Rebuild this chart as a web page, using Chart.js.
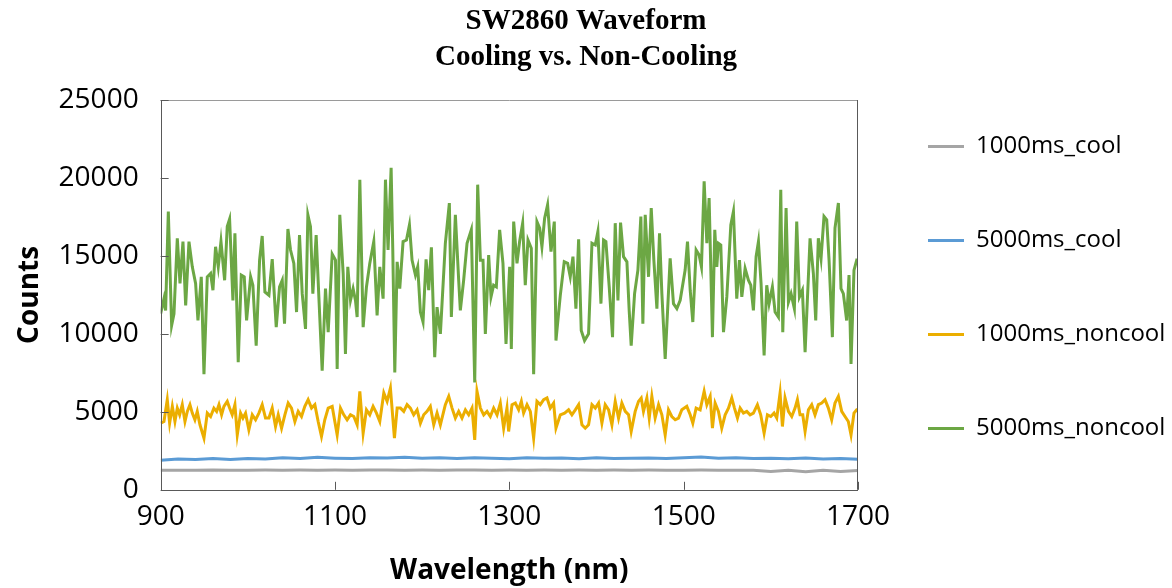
<!DOCTYPE html>
<html>
<head>
<meta charset="utf-8">
<title>SW2860 Waveform</title>
<script src="https://cdn.jsdelivr.net/npm/chart.js@4.4.1/dist/chart.umd.min.js"></script>
<style>
  html, body { margin: 0; padding: 0; background: #fff; }
</style>
</head>
<body>
<canvas id="chart" width="1172" height="588"></canvas>
<script>
// series names, same order as the legend
var seriesNames = ["1000ms_cool", "5000ms_cool", "1000ms_noncool", "5000ms_noncool"];
var seriesColors = ["#A5A5A5", "#5B9BD5", "#EBAE00", "#6CA744"];

var xTicks = [900, 1100, 1300, 1500, 1700];
var yTicks = [0, 5000, 10000, 15000, 20000, 25000];

// cooled series, read every 20 nm
var coolNm = [900, 920, 940, 960, 980, 1000, 1020, 1040, 1060, 1080,
	1100, 1120, 1140, 1160, 1180, 1200, 1220, 1240, 1260, 1280,
	1300, 1320, 1340, 1360, 1380, 1400, 1420, 1440, 1460, 1480,
	1500, 1520, 1540, 1560, 1580, 1600, 1620, 1640, 1660, 1680, 1700];
var cool1000 = [1250, 1260, 1250, 1270, 1260, 1260, 1270, 1260, 1270, 1260,
	1270, 1260, 1270, 1270, 1260, 1270, 1260, 1270, 1270, 1260,
	1270, 1260, 1270, 1260, 1270, 1260, 1270, 1260, 1270, 1260,
	1260, 1270, 1260, 1260, 1260, 1180, 1260, 1160, 1250, 1170, 1240];
var cool5000 = [1900, 1980, 1950, 2000, 1940, 2010, 1980, 2050, 2000, 2080,
	2030, 2000, 2060, 2040, 2080, 2020, 2060, 2000, 2050, 2030,
	1990, 2060, 2020, 2040, 1990, 2050, 2000, 2030, 2040, 2010,
	2050, 2110, 2030, 2060, 2000, 2030, 1990, 2040, 1970, 2010, 1960];

// 1000ms non-cooled
var noncool1000Nm = [900, 903.8, 907.6, 910.3, 913.4, 916.4, 919.1, 921.8, 924.8, 927.9,
	930.6, 933.6, 936.3, 939.3, 942.0, 945.1, 949.7, 953.5, 957.3, 961.1,
	964.2, 966.9, 969.9, 972.6, 976.4, 979.1, 982.1, 985.2, 987.9, 991.7,
	994.4, 997.4, 1001.2, 1005.1, 1008.9, 1012.7, 1016.5, 1020.3, 1024.2, 1028.0,
	1031.8, 1034.9, 1038.7, 1042.5, 1046.3, 1050.1, 1054.0, 1057.8, 1061.6, 1065.4,
	1069.2, 1073.1, 1076.9, 1080.7, 1084.5, 1088.3, 1092.2, 1096.8,
	1102.5, 1106.3, 1110.1, 1113.9, 1117.8, 1121.6, 1125.4, 1128.5, 1132.3, 1136.1,
	1139.9, 1143.7, 1147.6, 1151.4, 1156.0, 1159.8, 1163.6, 1168.2, 1171.3, 1175.1,
	1178.9, 1182.7, 1186.5, 1190.3, 1194.2, 1198.0, 1201.8, 1205.6, 1209.4, 1213.3,
	1217.1, 1220.9, 1226.6, 1230.5, 1234.3, 1238.1, 1241.9, 1245.7, 1249.6, 1253.4,
	1257.2, 1260.3, 1262.9, 1266.8, 1270.6, 1274.4, 1278.2, 1282.0, 1285.9, 1289.7,
	1293.5, 1297.3,
	1299.2, 1303.1, 1306.9, 1310.7, 1313.8, 1316.4, 1320.3, 1324.1, 1327.9, 1331.7,
	1335.5, 1339.4, 1343.2, 1347.0, 1350.8, 1353.5, 1358.5, 1363.4, 1368.0, 1371.8,
	1375.7, 1379.5, 1383.3, 1387.1, 1390.9, 1394.8, 1398.6, 1402.4, 1406.2, 1410.0,
	1413.9, 1417.7, 1421.5, 1425.3, 1429.1, 1433.0, 1436.8, 1439.8, 1444.4, 1448.2,
	1451.3, 1453.9, 1457.8, 1460.5, 1463.5, 1467.3, 1471.2, 1475.0, 1478.8, 1482.6,
	1486.4, 1490.3, 1494.1, 1497.9,
	1503.6, 1507.5, 1510.5, 1514.3, 1518.9, 1523.5, 1526.6, 1530.4, 1533.0, 1536.1,
	1539.9, 1543.7, 1547.6, 1551.4, 1555.2, 1558.3, 1561.7, 1564.8, 1568.6, 1572.4,
	1576.2, 1580.0, 1584.6, 1588.4, 1592.3, 1596.1, 1599.9, 1603.7, 1606.8, 1610.6,
	1613.3, 1616.3, 1620.2, 1624.0, 1627.8, 1630.5, 1633.5, 1636.6, 1639.3, 1643.1,
	1646.9, 1650.7, 1654.5, 1658.4, 1662.2, 1666.0, 1669.8, 1673.6, 1677.5, 1681.3,
	1685.1, 1688.9, 1692.0, 1695.4, 1698.5, 1700];
var noncool1000 = [4270, 4380, 5780, 4270, 5350, 4380, 5240, 4810, 5460, 4380,
	5030, 5460, 4920, 4490, 5030, 4170, 3310, 4920, 4700, 5240,
	5030, 5460, 4810, 5350, 5670, 5240, 4810, 5460, 3520, 4920,
	4600, 4920, 3850, 4810, 4490, 4920, 5460, 4600, 4600, 5240,
	4060, 4810, 3950, 4810, 5560, 5240, 4380, 5030, 4700, 5350,
	5780, 5240, 5460, 4380, 3420, 4490, 5240, 5350,
	3520, 5240, 4810, 4490, 4810, 4700, 4170, 6320, 3630, 5130,
	4810, 5350, 4920, 4380, 6210, 5670, 6530, 3310, 5240, 5240,
	5030, 5460, 5240, 4810, 5130, 4270, 4810, 5030, 5350, 4170,
	4920, 4170, 5460, 5990, 5240, 4600, 5030, 4600, 5130, 4810,
	5240, 3200, 6320, 5240, 4810, 5030, 4700, 5240, 4810, 5560,
	3950, 5240,
	3740, 5460, 5560, 5130, 5670, 4920, 5460, 5030, 3310, 5670,
	5460, 5780, 5890, 5240, 5560, 3950, 4810, 4920, 5130, 4810,
	5130, 5460, 4170, 3950, 4170, 5460, 5240, 5560, 4270, 5460,
	5130, 4170, 5670, 4600, 5560, 5030, 4810, 3740, 5030, 5670,
	5890, 5030, 5890, 4600, 5990, 4600, 5460, 4810, 3520, 5130,
	4700, 4490, 4600, 5130,
	5350, 4810, 4270, 5240, 5130, 6320, 5460, 5990, 3950, 5560,
	5030, 3950, 4810, 5240, 5890, 5240, 4600, 5240, 4920, 5030,
	4810, 4920, 5460, 4810, 3630, 4810, 4700, 4920, 4600, 6210,
	4060, 5890, 5030, 4700, 5240, 5780, 4810, 4810, 3740, 5130,
	5460, 4810, 5460, 5560, 5780, 5240, 4490, 5560, 5990, 5030,
	4700, 4380, 3520, 4920, 5130, 5130];

// 5000ms non-cooled
var noncool5000Nm = [900, 903.8, 905.7, 908.8, 912.6, 915.3, 919.1, 922.2, 925.6, 928.7,
	932.5, 936.3, 940.1, 942.8, 946.6, 949.7, 953.5, 957.3, 960.0, 963.0,
	966.1, 969.2, 973.4, 976.4, 979.1, 982.9, 985.2, 989.0, 992.5, 995.9,
	998.6, 1003.2, 1005.8, 1009.6, 1013.5, 1016.5, 1019.6, 1024.2, 1028.0, 1032.6,
	1036.4, 1039.5, 1042.1, 1046.0, 1049.0, 1052.8, 1055.9, 1059.3, 1062.4, 1066.2,
	1068.9, 1071.9, 1074.6, 1078.4, 1081.5, 1085.3, 1089.1, 1092.2, 1096.8, 1100.6,
	1102.5, 1105.5, 1109.4, 1112.0, 1114.7, 1117.8, 1120.8, 1123.5, 1125.4, 1128.5,
	1132.3, 1136.1, 1139.9, 1144.5, 1148.3, 1151.4, 1155.2, 1157.9, 1160.9, 1164.4,
	1166.3, 1168.6, 1171.3, 1174.3, 1178.1, 1182.0, 1185.4, 1188.4, 1192.3, 1194.9,
	1198.0, 1201.0, 1204.5, 1207.5, 1210.6, 1214.4, 1217.1, 1220.9, 1226.6, 1231.2,
	1233.5, 1238.1, 1241.9, 1243.8, 1247.6, 1251.5, 1256.4, 1260.3, 1263.7, 1266.8,
	1269.8, 1272.5, 1276.3, 1279.0, 1282.0, 1285.1, 1288.9, 1292.7, 1296.2, 1300.4,
	1302.3, 1305.0, 1308.8, 1311.8, 1315.3, 1318.3, 1321.4, 1325.2, 1327.9, 1331.7,
	1334.8, 1337.4, 1340.5, 1343.9, 1347.8, 1351.6, 1353.5, 1358.5, 1363.0, 1366.9,
	1369.9, 1373.0, 1376.4, 1379.5, 1382.5, 1386.3, 1390.9, 1394.8, 1398.6, 1401.6,
	1405.1, 1408.1, 1410.8, 1414.6, 1418.4, 1421.5, 1424.6, 1427.6, 1431.0, 1434.9,
	1437.5, 1439.8, 1443.7, 1447.5, 1450.9, 1453.2, 1455.9, 1459.7, 1462.8, 1465.8,
	1469.3, 1472.3, 1475.0, 1478.8, 1484.5, 1488.3, 1492.2, 1496.0, 1501.7,
	1504.4, 1507.5, 1510.5, 1514.3, 1517.8, 1520.4, 1523.5, 1526.6, 1529.2, 1533.0,
	1535.7, 1538.0, 1539.9, 1542.6, 1545.7, 1549.5, 1554.1, 1557.1, 1560.9, 1564.0,
	1566.7, 1570.5, 1574.3, 1577.0, 1580.0, 1583.1, 1585.8, 1588.8, 1592.3, 1595.3,
	1598.0, 1601.8, 1604.9, 1608.7, 1611.4, 1613.7, 1617.5, 1620.2, 1623.2, 1627.0,
	1629.7, 1632.8, 1636.2, 1639.3, 1645.0, 1648.8, 1651.5, 1654.5, 1657.6, 1661.0,
	1664.1, 1666.8, 1670.6, 1673.6, 1677.5, 1680.5, 1683.2, 1687.0, 1689.7, 1692.0,
	1695.4, 1698.5, 1700];
var noncool5000 = [11290, 12260, 11500, 17850, 10540, 11290, 16130, 13230, 15920, 11830,
	15920, 14300, 13230, 10860, 13660, 7420, 13660, 13870, 12800, 15590,
	14300, 15920, 13440, 16880, 17360, 12150, 16450, 8180, 13770, 13660,
	10860, 13660, 13120, 9250, 14730, 16280, 12690, 12480, 14800, 10430,
	13010, 13440, 10650, 16730, 15380, 14520, 11400, 16340, 12580, 10320,
	17640, 16880, 12580, 16340, 12370, 7640, 12900, 10110, 15120, 14730,
	7750, 17640, 13870, 8710, 14300, 12150, 12900, 12150, 11080, 19890,
	10430, 13010, 14520, 15920, 11190, 14300, 12260, 19890, 15380, 20650,
	15380, 7530, 14620, 12900, 15920, 16020, 16990, 14730, 13770, 14300,
	11400, 10760, 14780, 12800, 15550, 8500, 11720, 10000, 15810, 18390,
	11080, 17640, 13440, 11510, 13440, 15810, 16670, 6890, 19570, 14730,
	14730, 10000, 15050, 12370, 13120, 13010, 16670, 14520, 9360, 14300,
	9040, 17200, 14520, 15920, 17100, 13120, 16020, 15490, 7420, 17200,
	16780, 15590, 17420, 18280, 15270, 17200, 9570, 12480, 14620, 14520,
	13660, 14950, 11620, 16070, 10220, 9570, 10000, 15810, 15700, 16560,
	11940, 16020, 15920, 13010, 9790, 17100, 12150, 17140, 14950, 14620,
	11510, 9250, 12580, 14090, 17530, 10650, 17640, 13660, 18070, 14730,
	11620, 16450, 12580, 8390, 14840, 11940, 11620, 12150, 14090,
	15920, 12800, 10760, 15380, 15050, 14300, 19790, 15810, 18710, 9790,
	16670, 14300, 15810, 15700, 10110, 12370, 16990, 17850, 12260, 14730,
	12370, 14200, 13440, 13120, 11510, 14950, 15920, 13230, 8610, 13120,
	11940, 13010, 11400, 11080, 19250, 10110, 18070, 12040, 12580, 11620,
	17200, 12370, 12800, 8820, 16130, 13870, 10860, 16130, 14840, 17530,
	17310, 14730, 9790, 16780, 18390, 12900, 12580, 10860, 13770, 8070,
	14090, 14730, 14700];

function toPoints(nm, counts) {
	return nm.map(function (w, i) {
		return { x: w, y: counts[i] };
	});
}

var seriesData = [
	toPoints(coolNm, cool1000),
	toPoints(coolNm, cool5000),
	toPoints(noncool1000Nm, noncool1000),
	toPoints(noncool5000Nm, noncool5000)
];

// plot frame + inward tick marks, like the original sheet
var framePlugin = {
	id: "frame",
	afterDatasetsDraw: function (chart) {
		var a = chart.chartArea;
		var c = chart.ctx;
		var sx = chart.scales.x, sy = chart.scales.y;
		c.save();
		c.lineWidth = 1;
		c.strokeStyle = "#9a9a9a";
		c.beginPath();
		c.moveTo(a.left, Math.round(a.top) + 0.5);
		c.lineTo(a.right, Math.round(a.top) + 0.5);
		c.stroke();
		c.strokeStyle = "#595959";
		c.beginPath();
		c.moveTo(Math.round(a.right) - 0.5, a.top);
		c.lineTo(Math.round(a.right) - 0.5, a.bottom);
		c.moveTo(Math.round(a.left) + 0.5, a.top);
		c.lineTo(Math.round(a.left) + 0.5, Math.round(a.bottom) + 0.5);
		c.lineTo(a.right, Math.round(a.bottom) + 0.5);
		xTicks.forEach(function (v) {
			var px = Math.round(sx.getPixelForValue(v)) + 0.5;
			c.moveTo(px, a.bottom);
			c.lineTo(px, a.bottom - 8);
		});
		yTicks.forEach(function (v) {
			var py = Math.round(sy.getPixelForValue(v)) + 0.5;
			c.moveTo(a.left, py);
			c.lineTo(a.left + 8, py);
		});
		c.stroke();
		c.restore();
	}
};

Chart.defaults.font.family = "'Open Sans', 'Noto Sans', sans-serif";
Chart.defaults.color = "#000";

var ctx = document.getElementById("chart");

var chart = new Chart(ctx, {
	type: "line",
	data: {
		datasets: seriesNames.map(function (name, i) {
			return {
				label: name,
				data: seriesData[i],
				borderColor: seriesColors[i],
				backgroundColor: seriesColors[i],
				borderWidth: 3,
				pointRadius: 0,
				tension: 0,
				fill: false
			};
		})
	},
	options: {
		responsive: false,
		animation: false,
		layout: {
			padding: { top: -13, left: 0, right: 0, bottom: 0 }
		},
		scales: {
			x: {
				type: "linear",
				min: 900,
				max: 1700,
				afterBuildTicks: function (axis) {
					axis.ticks = xTicks.map(function (v) { return { value: v }; });
				},
				grid: { display: false, drawTicks: false },
				border: { display: false },
				ticks: {
					padding: 10,
					font: { size: 28 },
					color: "#000",
					callback: function (v) { return String(v); }
				},
				title: {
					display: true,
					text: "Wavelength (nm)",
					font: { size: 28, weight: "bold" },
					color: "#000",
					padding: { top: 11, bottom: 0 }
				}
			},
			y: {
				min: 0,
				max: 25000,
				afterBuildTicks: function (axis) {
					axis.ticks = yTicks.map(function (v) { return { value: v }; });
				},
				grid: { display: false, drawTicks: false },
				border: { display: false },
				ticks: {
					padding: 22,
					font: { size: 28 },
					color: "#000",
					callback: function (v) { return String(v); }
				},
				title: {
					display: true,
					text: "Counts",
					font: { size: 28, weight: "bold" },
					color: "#000",
					padding: { top: 13, bottom: -10 }
				}
			}
		},
		plugins: {
			title: {
				display: true,
				text: ["SW2860 Waveform", "Cooling vs. Non-Cooling"],
				font: { family: "'Liberation Serif', 'Times New Roman', serif", size: 29, weight: "bold", lineHeight: "36px" },
				color: "#000",
				padding: { top: 17, bottom: 24 }
			},
			legend: {
				position: "right",
				maxWidth: 314,
				labels: {
					usePointStyle: true,
					pointStyle: "line",
					pointStyleWidth: 36,
					padding: 70,
					font: { size: 24 },
					color: "#000"
				}
			},
			tooltip: { enabled: false }
		}
	},
	plugins: [framePlugin]
});
</script>
</body>
</html>
